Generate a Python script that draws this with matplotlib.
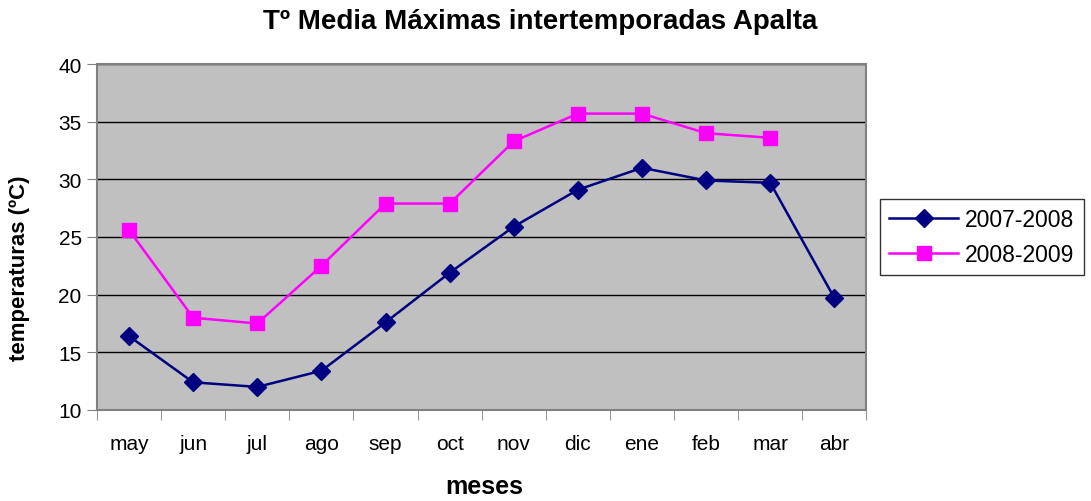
import numpy as np
import matplotlib.pyplot as plt

plt.rcParams['font.family'] = ['Liberation Sans', 'DejaVu Sans']

meses = ['may', 'jun', 'jul', 'ago', 'sep', 'oct', 'nov', 'dic', 'ene', 'feb', 'mar', 'abr']
t_2007_2008 = [16.4, 12.4, 12.0, 13.4, 17.6, 21.9, 25.9, 29.1, 31.0, 29.9, 29.7, 19.7]
t_2008_2009 = [25.6, 18.0, 17.5, 22.5, 27.9, 27.9, 33.3, 35.7, 35.7, 34.0, 33.6, np.nan]

fig = plt.figure(figsize=(10.91, 5.02), dpi=100)
ax = fig.add_axes([0.0889, 0.1813, 0.7053, 0.6892])
ax.set_facecolor('#C0C0C0')

x = np.arange(len(meses))
ax.plot(x, t_2007_2008, color='#000080', marker='D', markersize=9, lw=1.8, label='2007-2008')
ax.plot(x, t_2008_2009, color='#FF00FF', marker='s', markersize=9.5, lw=1.8, label='2008-2009')

ax.set_ylim(10, 40)
ax.set_yticks(range(10, 41, 5))
ax.set_xlim(-0.5, len(meses) - 0.5)
ax.set_xticks(x)
ax.set_xticklabels(meses)
ax.set_xticks(np.arange(-0.5, len(meses), 1), minor=True)
ax.tick_params(axis='x', which='major', length=0, pad=17, labelsize=15)
ax.tick_params(axis='x', which='minor', length=7, color='#808080')
ax.tick_params(axis='y', length=7, color='#808080', labelsize=15, pad=4)
ax.yaxis.grid(True, color='black', lw=1)
ax.set_axisbelow(True)
for s in ax.spines.values():
    s.set_color('#808080')
    s.set_linewidth(1.5)

fig.text(540 / 1091, 1 - 22 / 502, 'Tº Media Máximas intertemporadas Apalta',
         fontsize=20, fontweight='bold', ha='center', va='center')
fig.text(484 / 1091, 1 - 487 / 502, 'meses', fontsize=18, fontweight='bold', ha='center', va='center')
fig.text(20 / 1091, 1 - 268 / 502, 'temperaturas (ºC)', fontsize=16, fontweight='bold',
         rotation=90, ha='center', va='center')

leg = ax.legend(loc='center left', bbox_to_anchor=(1.018, 0.5), borderaxespad=0, fontsize=16.5,
                frameon=True, fancybox=False, edgecolor='black', handlelength=3.0,
                borderpad=0.4, labelspacing=0.5, handletextpad=0.3)
leg.get_frame().set_linewidth(1)

fig.savefig('out.png', dpi=100)
